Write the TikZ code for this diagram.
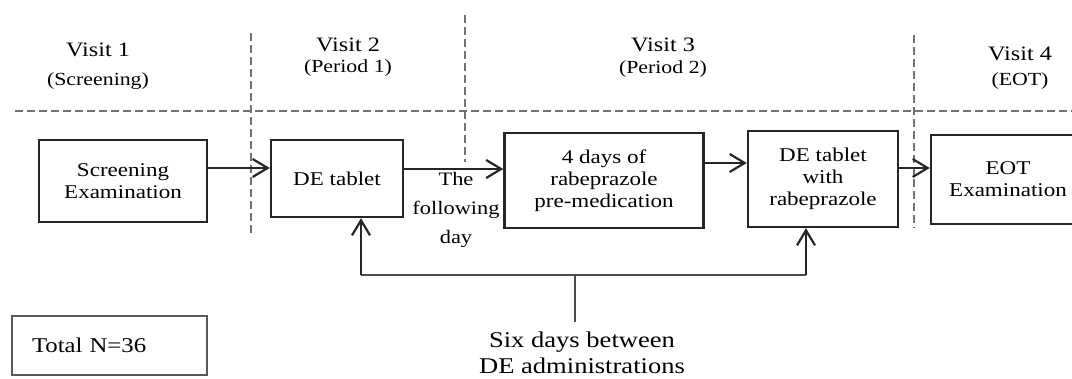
\documentclass[tikz,border=0pt]{standalone}
\usepackage{fontspec}
\setmainfont[FakeStretch=1.18]{Liberation Serif}
\usetikzlibrary{arrows.meta}
\begin{document}
\begin{tikzpicture}[x=1pt,y=-1pt,
  box/.style={draw=black!85, line width=2.4pt, inner sep=0pt, align=center,
    font=\fontsize{19.5}{22}\selectfont},
  lbl/.style={inner sep=0pt, align=center, font=\fontsize{19.5}{22}\selectfont},
  vtitle/.style={inner sep=0pt, font=\fontsize{20.5}{24}\selectfont},
  vsub/.style={inner sep=0pt, font=\fontsize{18.5}{22}\selectfont},
  sep/.style={draw=black!55, line width=2.4pt, dash pattern=on 8pt off 4pt},
  flow/.style={draw=black!85, line width=2.4pt, -{Straight Barb[length=15pt,width=18pt,line width=2.2pt]}},
  brace/.style={draw=black!70, line width=2.4pt}
]
\useasboundingbox (0,0) rectangle (1072,379);
\fill[white] (0,0) rectangle (1072,379);

% separators
\coordinate (h1) at (15,111);
\coordinate (h2) at (1072,111);
\draw[sep] (h1) -- (h2);
\coordinate (v1t) at (251,33);  \coordinate (v1b) at (251,237);
\coordinate (v2t) at (465,15);  \coordinate (v2b) at (465,162);
\coordinate (v3t) at (914,35);  \coordinate (v3b) at (914,228);
\draw[sep] (v1t) -- (v1b);
\draw[sep] (v2t) -- (v2b);
\draw[sep] (v3t) -- (v3b);

% visit headers
\node[vtitle] (t1) at (98,50) {Visit 1};
\node[vsub] (s1) at (98,81) {(Screening)};
\node[vtitle] (t2) at (348,45) {Visit 2};
\node[vsub] (s2) at (348,68) {(Period 1)};
\node[vtitle] (t3) at (663,45) {Visit 3};
\node[vsub] (s3) at (663,69) {(Period 2)};
\node[vtitle] (t4) at (1020,54) {Visit 4};
\node[vsub] (s4) at (1020,81) {(EOT)};

% boxes
\node[box, minimum width=168pt, minimum height=82pt] (scr) at (123,181) {Screening\\Examination};
\node[box, minimum width=132pt, minimum height=77pt] (de) at (337,178.5) {DE tablet};
\node[box, minimum width=199pt, minimum height=95pt] (pre) at (604,180.5) {4 days of\\rabeprazole\\pre-medication};
\node[box, minimum width=150pt, minimum height=96pt] (der) at (823,179) {DE tablet\\with\\rabeprazole};
\node[box, minimum width=170pt, minimum height=89pt, text width=160pt] (eot) at (1016,179.5) {\hspace*{-16pt}EOT\\\hspace*{-16pt}Examination};
\node[box, minimum width=195pt, minimum height=59pt, draw=black!65, line width=2.4pt, text width=155pt, align=left,
  font=\fontsize{21}{25}\selectfont] (tot) at (109.5,345.5) {Total N=36};

% flow arrow end points
\coordinate (a1s) at ([yshift=13pt]scr.east);
\coordinate (a2s) at ([yshift=9.5pt]de.east);
\coordinate (a3s) at ([yshift=17.5pt]pre.east);
\coordinate (a4s) at ([yshift=11pt]der.east);

\draw[flow] (a1s) -- (a1s -| de.west);
\draw[flow] (a2s) -- (a2s -| pre.west);
\draw[flow] (a3s) -- (a3s -| der.west);
\draw[flow] (a4s) -- (a4s -| eot.west);

\node[lbl, font=\fontsize{19}{29}\selectfont] (fol) at (456,210) {The\\following\\day};

% six-day bracket
\coordinate (stem) at (575,322);
\coordinate (bm) at (575,275);
\coordinate (bl) at (361,275);
\coordinate (br) at (806,275);
\draw[brace] (stem) -- (bm);
\draw[brace] (bl) -- (br);
\draw[flow] (bl) -- (bl |- de.south);
\draw[flow] (br) -- (br |- der.south);

\node[lbl, font=\fontsize{22.5}{26}\selectfont] (six) at (582,353) {Six days between\\DE administrations};
\end{tikzpicture}
\end{document}
